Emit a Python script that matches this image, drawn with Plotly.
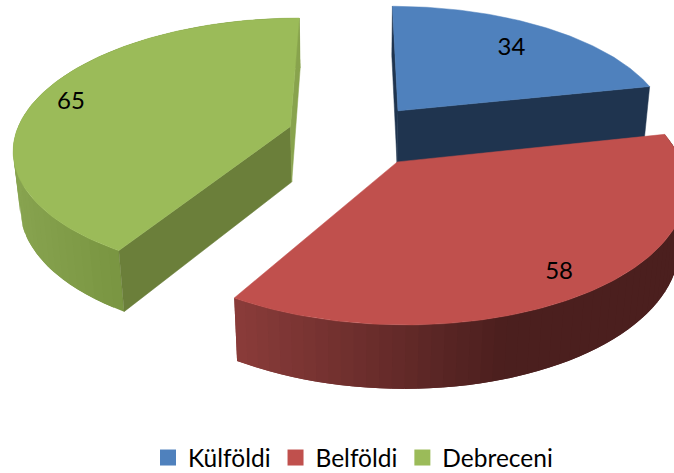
import numpy as np
import plotly.graph_objects as go

categories = ["Külföldi", "Belföldi", "Debreceni"]
values = [34, 58, 65]
top_colors = ["#4F81BD", "#C0504D", "#9BBB59"]
label_radius = [0.77, 0.85, 0.87]

X0, Y0, A, B, K, D, M, EXPLODE = 356, 135, 275, 128, 0.157, 57, 0.02, 0.25
LABEL_DX, LABEL_DY = -1.5, 4.5


def project(x, y, z=0.0):
    w = 1 + K * y + M * z
    return X0 + A * x / w, Y0 - B * y / w + D * z / w


def lerp_hex(c1, c2, f):
    a = [int(c1[i:i + 2], 16) for i in (1, 3, 5)]
    b = [int(c2[i:i + 2], 16) for i in (1, 3, 5)]
    return "rgb(%d,%d,%d)" % tuple(a[i] + (b[i] - a[i]) * f for i in range(3))


fig = go.Figure()


def poly(xs, ys, color, lw=0.5):
    fig.add_trace(go.Scatter(
        x=list(xs) + [xs[0]], y=list(ys) + [ys[0]], mode="lines", fill="toself",
        fillcolor=color, line=dict(color=color, width=lw), hoverinfo="skip",
        showlegend=False))


total = sum(values)
edges = np.cumsum([0] + values) / total * 2 * np.pi

wall_start = ["#1F344F", None, "#6B7F3A"]
wall_end = ["#1F344F", None, "#88A34D"]
# rim shading runs along the screen: (colour, x) at each end of the ramp
rim_ramp = [None, ("#4B1F1E", 513, "#8C3D3B", 235), ("#7A9642", 120, "#88A450", 15)]

label_pos = []
for i, v in enumerate(values):
    t0, t1 = edges[i], edges[i + 1]
    mid = (t0 + t1) / 2
    ox, oy = EXPLODE * np.sin(mid), EXPLODE * np.cos(mid)
    ts = np.linspace(t0, t1, 121)
    ex, ey = ox + np.sin(ts), oy + np.cos(ts)

    if rim_ramp[i]:
        c_a, x_a, c_b, x_b = rim_ramp[i]
        n = 60
        tr = np.linspace(t0, t1, n + 1)
        for j in range(n):
            # each strip runs under the next one, so no seam shows between them
            tt = np.linspace(tr[j], tr[min(j + 2, n)], 6)
            px, py = ox + np.sin(tt), oy + np.cos(tt)
            ax, ay = project(px, py, 0)
            bx, by = project(px[::-1], py[::-1], 1)
            cx = project(ox + np.sin(tr[j]), oy + np.cos(tr[j]), 0)[0]
            f = float(np.clip((cx - x_a) / (x_b - x_a), 0, 1))
            poly(np.r_[ax, bx], np.r_[ay, by], lerp_hex(c_a, c_b, f), lw=0)

    for color, t in ((wall_start[i], t0), (wall_end[i], t1)):
        if color:
            px = np.array([ox, ox + np.sin(t)])
            py = np.array([oy, oy + np.cos(t)])
            ax, ay = project(px, py, 0)
            bx, by = project(px[::-1], py[::-1], 1)
            poly(np.r_[ax, bx], np.r_[ay, by], color)

    sx, sy = project(np.r_[ox, ex], np.r_[oy, ey], 0)
    poly(sx, sy, top_colors[i])
    label_pos.append(project(ox + label_radius[i] * np.sin(mid),
                             oy + label_radius[i] * np.cos(mid), 0))

fig.add_trace(go.Scatter(
    x=[p[0] + LABEL_DX for p in label_pos], y=[p[1] + LABEL_DY for p in label_pos],
    mode="text",
    text=[str(v) for v in values], textposition="middle center",
    textfont=dict(family="Lato, Carlito, sans-serif", size=24, color="#000000"),
    hoverinfo="skip", showlegend=False))

for name, color in zip(categories, top_colors):
    fig.add_trace(go.Scatter(
        x=[None], y=[None], mode="markers", name=name,
        marker=dict(symbol="square", size=16, color=color)))

fig.update_layout(
    width=674, height=473,
    margin=dict(l=0, r=0, t=0, b=0, autoexpand=False),
    paper_bgcolor="white", plot_bgcolor="white",
    xaxis=dict(range=[0, 674], visible=False, fixedrange=True),
    yaxis=dict(range=[473, 0], visible=False, fixedrange=True),
    legend=dict(orientation="h", x=0.2196, y=-0.015, xanchor="left", yanchor="bottom",
                font=dict(family="Lato, Carlito, sans-serif", size=24.5, color="#000000"),
                bgcolor="rgba(0,0,0,0)", itemwidth=30),
    hovermode=False,
)
fig.write_html("out.html", config={"displayModeBar": False},
               post_script="document.body.style.margin='0';document.body.style.overflow='hidden';")
